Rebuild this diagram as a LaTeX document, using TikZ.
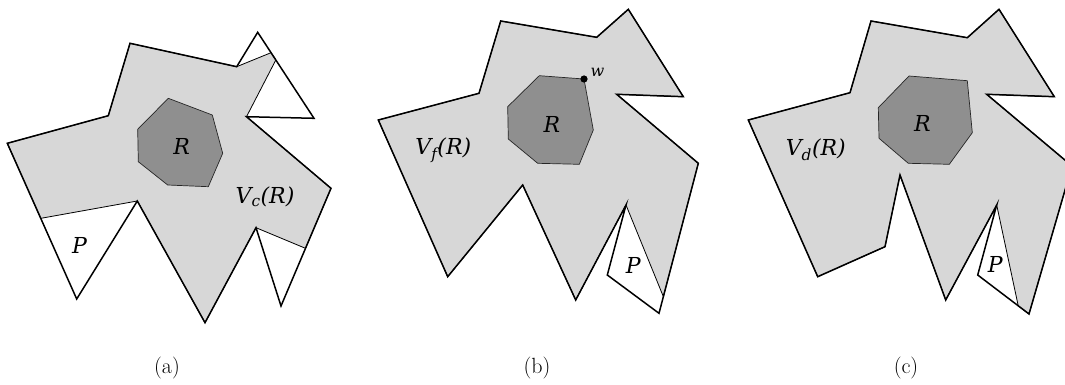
\documentclass[tikz,border=0pt]{standalone}
\usepackage{fontspec}
\newfontfamily\lblfont{DejaVu Serif}
\usetikzlibrary{calc}
\definecolor{visgray}{RGB}{215,215,215}
\definecolor{reggray}{RGB}{143,143,143}
\begin{document}
\begin{tikzpicture}[x=1pt,y=-1pt,
  vis/.style={fill=visgray, draw=black, line width=0.8pt, line join=round},
  outer/.style={draw=black, line width=1.5pt, line join=miter},
  reg/.style={fill=reggray, draw=black!85, line width=0.7pt, line join=round},
  lbl/.style={font=\fontsize{22}{26}\selectfont\lblfont\itshape, inner sep=0pt},
  wlabel/.style={font=\fontsize{16}{19}\selectfont\lblfont\itshape, inner sep=0pt},
  captext/.style={font=\fontsize{22}{26}\selectfont, inner sep=0pt}]
\useasboundingbox (0,0) rectangle (1065,385);
\clip (0,0) rectangle (1065,385);

% ---------------- panel (a)
\coordinate (a1) at (7.3,143.3);
\coordinate (a2) at (108.3,115.7);
\coordinate (a3) at (130,43.3);
\coordinate (a4) at (236.7,66.7);
\coordinate (a5) at (257.7,32.3);
\coordinate (a6) at (314,118.3);
\coordinate (a7) at (246.5,116.7);
\coordinate (a8) at (331,188.3);
\coordinate (a9) at (281,306);
\coordinate (a10) at (256,227.7);
\coordinate (a11) at (205,322.7);
\coordinate (a12) at (137.3,201);
\coordinate (a13) at (76.7,299);
\draw[vis] (a1) -- (a2) -- (a3) -- (a4) -- ($(a5)!0.237!(a6)$) -- ($(a5)!0.322!(a6)$)
  -- (a7) -- (a8) -- ($(a8)!0.51!(a9)$) -- (a10) -- (a11) -- (a12)
  -- ($(a13)!0.518!(a1)$) -- cycle;
\draw[outer] (a1) -- (a2) -- (a3) -- (a4) -- (a5) -- (a6) -- (a7) -- (a8) -- (a9)
  -- (a10) -- (a11) -- (a12) -- (a13) -- cycle;
\draw[reg] (168.3,98.3) -- (212.3,115) -- (222.7,153.3) -- (208.3,186.7)
  -- (167.7,185) -- (138.3,161.7) -- (137.7,129.3) -- cycle;
\node[lbl] (Ra) at (181.7,146.7) {R};
\node[lbl] (Va) at (265,196.5) {V\textsubscript{c}(R)};
\node[lbl] (Pa) at (79.5,245) {P};
\node[captext] (capa) at (167,368) {(a)};

% ---------------- panel (b)
\coordinate (b1) at (378.3,120);
\coordinate (b2) at (479,93.3);
\coordinate (b3) at (500.7,21);
\coordinate (b4) at (596.7,37.3);
\coordinate (b5) at (628.3,9.3);
\coordinate (b6) at (683.3,96.7);
\coordinate (b7) at (616.7,94.3);
\coordinate (b8) at (698.3,163.3);
\coordinate (b9) at (659,313.3);
\coordinate (bq) at (607.3,275);
\coordinate (b10) at (626,205);
\coordinate (b11) at (575.7,300);
\coordinate (b12) at (522.7,185);
\coordinate (b13) at (447.7,276.7);
\draw[vis] (b1) -- (b2) -- (b3) -- (b4) -- (b5) -- (b6) -- (b7) -- (b8)
  -- ($(b8)!0.889!(b9)$) -- (b10) -- (b11) -- (b12) -- (b13) -- cycle;
\draw[outer] (b1) -- (b2) -- (b3) -- (b4) -- (b5) -- (b6) -- (b7) -- (b8) -- (b9)
  -- (bq) -- (b10) -- (b11) -- (b12) -- (b13) -- cycle;
\draw[reg] (539.3,75.7) -- (584,79) -- (593.3,130) -- (579.3,164.3)
  -- (537.7,163.3) -- (508.3,139) -- (507.7,106.7) -- cycle;
\coordinate (wpt) at (584,79);
\fill (wpt) circle (3.6pt);
\node[wlabel] (w) at (597.5,72) {w};
\node[lbl] (Rb) at (551.8,124.5) {R};
\node[lbl] (Vb) at (443.3,150) {V\textsubscript{f}(R)};
\node[lbl] (Pb) at (633.3,265) {P};
\node[captext] (capb) at (537,368) {(b)};

% ---------------- panel (c)
\coordinate (c1) at (748.3,120);
\coordinate (c2) at (850,92.7);
\coordinate (c3) at (871,21);
\coordinate (c4) at (967.3,37.7);
\coordinate (c5) at (999,9.3);
\coordinate (c6) at (1054.3,96.7);
\coordinate (c7) at (986.7,94.3);
\coordinate (c8) at (1072,166);
\coordinate (c9) at (1029,314);
\coordinate (cq) at (977.7,275);
\coordinate (c10) at (996.7,205);
\coordinate (c11) at (945.7,300);
\coordinate (c12) at (900,175);
\coordinate (c13) at (885,246.7);
\coordinate (c14) at (817.7,276.7);
\draw[vis] (c1) -- (c2) -- (c3) -- (c4) -- (c5) -- (c6) -- (c7) -- (c8) -- (c9)
  -- ($(cq)!0.79!(c9)$) -- (c10) -- (c11) -- (c12) -- (c13) -- (c14) -- cycle;
\draw[outer] (c1) -- (c2) -- (c3) -- (c4) -- (c5) -- (c6) -- (c7) -- (c8) -- (c9)
  -- (cq) -- (c10) -- (c11) -- (c12) -- (c13) -- (c14) -- cycle;
\draw[reg] (909,76) -- (967.3,80.7) -- (972.3,132.7) -- (949.3,164.3)
  -- (908.3,163.3) -- (879,138.3) -- (878.3,107.7) -- cycle;
\node[lbl] (Rc) at (922.5,123.3) {R};
\node[lbl] (Vc) at (815.8,150) {V\textsubscript{d}(R)};
\node[lbl] (Pc) at (995.3,264.7) {P};
\node[captext] (capc) at (906,368) {(c)};
\end{tikzpicture}
\end{document}
